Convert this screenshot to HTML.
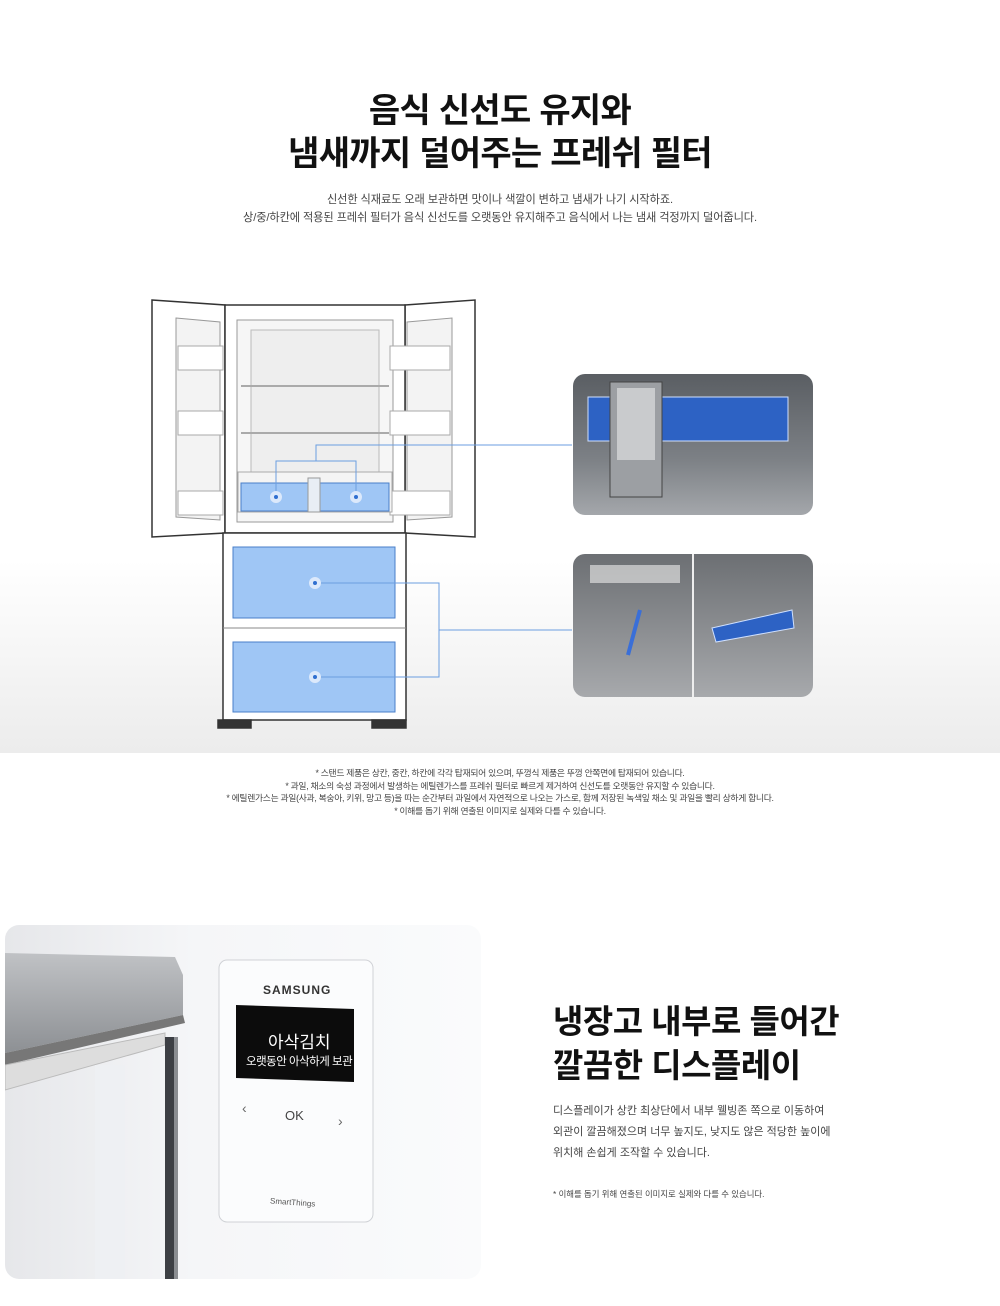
<!DOCTYPE html>
<html><head><meta charset="utf-8">
<style>
html,body{margin:0;padding:0;background:#fff;}
body{width:1000px;height:1306px;position:relative;overflow:hidden;font-family:"Liberation Sans","Noto Sans CJK KR",sans-serif;color:#111;}
.abs{position:absolute;}
.c{left:0;width:1000px;text-align:center;}
h1{margin:0;font-weight:700;font-size:34px;line-height:43px;letter-spacing:-0.7px;}
.sub{font-size:11.2px;color:#444;line-height:18px;letter-spacing:-0.1px;}
.note{font-size:8.8px;color:#444;line-height:12.5px;letter-spacing:-0.3px;}
</style></head><body>

<div class="abs" style="left:0;top:560px;width:1000px;height:193px;background:linear-gradient(#fff,#ececec);"></div>

<h1 class="abs c" style="top:90px;">음식 신선도 유지와<br>냄새까지 덜어주는 프레쉬 필터</h1>
<div class="abs c sub" style="top:191px;">신선한 식재료도 오래 보관하면 맛이나 색깔이 변하고 냄새가 나기 시작하죠.<br>상/중/하칸에 적용된 프레쉬 필터가 음식 신선도를 오랫동안 유지해주고 음식에서 나는 냄새 걱정까지 덜어줍니다.</div>

<svg class="abs" style="left:0;top:0" width="1000" height="760">
 <g stroke="#333" stroke-width="1.5" fill="#fff">
  <polygon points="152,300 225,305 225,533 152,537"/>
  <polygon points="176,318 220,322 220,520 176,517" fill="#f3f3f3" stroke="#999" stroke-width="1"/>
  <polygon points="405,305 475,300 475,537 405,533"/>
  <polygon points="407,322 452,318 452,517 407,520" fill="#f3f3f3" stroke="#999" stroke-width="1"/>
  <rect x="225" y="305" width="180" height="228"/>
  <rect x="237" y="320" width="156" height="202" fill="#f6f6f6" stroke="#999" stroke-width="1"/>
  <rect x="251" y="330" width="128" height="150" fill="#eee" stroke="#bbb" stroke-width="1"/>
  <rect x="223" y="533" width="183" height="187"/>
  <rect x="218" y="720" width="33" height="8" fill="#333"/>
  <rect x="372" y="720" width="34" height="8" fill="#333"/>
 </g>
 <g stroke="#aaa" stroke-width="1" fill="#fff">
  <line x1="241" y1="386" x2="389" y2="386" stroke-width="2"/>
  <line x1="241" y1="433" x2="389" y2="433" stroke-width="2"/>
  <rect x="178" y="346" width="45" height="24"/><rect x="178" y="411" width="45" height="24"/><rect x="178" y="491" width="45" height="24"/>
  <rect x="390" y="346" width="60" height="24"/><rect x="390" y="411" width="60" height="24"/><rect x="390" y="491" width="60" height="24"/>
  <rect x="238" y="472" width="154" height="40" fill="#f4f4f4"/>
  <line x1="223" y1="628" x2="406" y2="628" stroke="#888"/>
 </g>
 <rect x="241" y="483" width="148" height="28" fill="#9fc6f5" stroke="#4a7fc9" stroke-width="1"/>
 <rect x="308" y="478" width="12" height="34" fill="#e8eef5" stroke="#999" stroke-width="1"/>
 <rect x="233" y="547" width="162" height="71" fill="#9fc6f5" stroke="#4a7fc9" stroke-width="1"/>
 <rect x="233" y="642" width="162" height="70" fill="#9fc6f5" stroke="#4a7fc9" stroke-width="1"/>
 <g stroke="#6b9ee0" stroke-width="1" fill="none">
  <polyline points="276,497 276,461 356,461 356,497"/>
  <polyline points="316,461 316,445 572,445"/>
  <polyline points="315,583 439,583 439,677 315,677"/>
  <line x1="439" y1="630" x2="572" y2="630"/>
 </g>
 <g fill="#dce9fb"><circle cx="276" cy="497" r="6"/><circle cx="356" cy="497" r="6"/><circle cx="315" cy="583" r="6"/><circle cx="315" cy="677" r="6"/></g>
 <g fill="#2f6fd0"><circle cx="276" cy="497" r="2"/><circle cx="356" cy="497" r="2"/><circle cx="315" cy="583" r="2"/><circle cx="315" cy="677" r="2"/></g>

 <defs>
  <linearGradient id="g1" x1="0" y1="0" x2="0" y2="1"><stop offset="0" stop-color="#5a5e63"/><stop offset=".6" stop-color="#7c8085"/><stop offset="1" stop-color="#a4a7ab"/></linearGradient>
  <linearGradient id="g2" x1="0" y1="0" x2="0" y2="1"><stop offset="0" stop-color="#6c6f73"/><stop offset="1" stop-color="#a7a9ac"/></linearGradient>
 </defs>
 <rect x="573" y="374" width="240" height="141" rx="12" fill="url(#g1)"/>
 <rect x="588" y="397" width="200" height="44" fill="#2d62c4" stroke="#cfe0ff"/>
 <rect x="610" y="382" width="52" height="115" fill="#9c9fa3" stroke="#444"/>
 <rect x="617" y="388" width="38" height="72" fill="#c9cbcd"/>
 <rect x="573" y="554" width="240" height="143" rx="12" fill="url(#g2)"/>
 <rect x="692" y="554" width="2" height="143" fill="#eee"/>
 <polygon points="712,628 792,610 794,628 716,642" fill="#2d62c4" stroke="#cfe0ff"/>
 <line x1="628" y1="655" x2="640" y2="610" stroke="#3a6fd8" stroke-width="4"/>
 <rect x="590" y="565" width="90" height="18" fill="#ddd" opacity=".7"/>
</svg>

<div class="abs c note" style="top:767px;">* 스탠드 제품은 상칸, 중칸, 하칸에 각각 탑재되어 있으며, 뚜껑식 제품은 뚜껑 안쪽면에 탑재되어 있습니다.<br>* 과일, 채소의 숙성 과정에서 발생하는 에틸렌가스를 프레쉬 필터로 빠르게 제거하여 신선도를 오랫동안 유지할 수 있습니다.<br>* 에틸렌가스는 과일(사과, 복숭아, 키위, 망고 등)을 따는 순간부터 과일에서 자연적으로 나오는 가스로, 함께 저장된 녹색잎 채소 및 과일을 빨리 상하게 합니다.<br>* 이해를 돕기 위해 연출된 이미지로 실제와 다를 수 있습니다.</div>

<svg class="abs" style="left:5px;top:925px" width="476" height="354">
 <defs>
  <linearGradient id="bg" x1="0" y1="0" x2="1" y2="0"><stop offset="0" stop-color="#e6e7ea"/><stop offset=".4" stop-color="#f5f6f8"/><stop offset="1" stop-color="#fafbfc"/></linearGradient>
  <linearGradient id="sh" x1="0" y1="0" x2="0" y2="1"><stop offset="0" stop-color="#c0c2c5"/><stop offset="1" stop-color="#8d9094"/></linearGradient>
 </defs>
 <rect width="476" height="354" rx="14" fill="url(#bg)"/>
 <polygon points="0,28 170,32 178,50 178,90 0,128" fill="url(#sh)"/>
 <polygon points="0,128 178,90 180,98 0,140" fill="#777"/>
 <polygon points="0,140 160,108 160,120 0,165" fill="#ddd" stroke="#bbb"/>
 <rect x="90" y="140" width="30" height="214" fill="#eef0f3"/>
 <rect x="160" y="112" width="9" height="242" fill="#3c3f44"/>
 <rect x="169" y="112" width="4" height="242" fill="#8a8d91"/>
 <rect x="214" y="35" width="154" height="262" rx="8" fill="#fbfcfd" stroke="#d0d2d6"/>
 <polygon points="231,80 349,84 349,157 231,153" fill="#0c0c0c"/>
</svg>
<div class="abs" style="left:263px;top:983px;font-size:12px;font-weight:700;letter-spacing:1px;color:#333;">SAMSUNG</div>
<div class="abs" style="left:268px;top:1028px;font-size:17px;color:#fff;">아삭김치</div>
<div class="abs" style="left:246px;top:1053px;font-size:11.5px;color:#fff;letter-spacing:-0.5px;">오랫동안 아삭하게 보관</div>
<div class="abs" style="left:242px;top:1100px;font-size:14px;color:#666;">‹</div>
<div class="abs" style="left:285px;top:1108px;font-size:13px;color:#444;">OK</div>
<div class="abs" style="left:338px;top:1113px;font-size:14px;color:#666;">›</div>
<div class="abs" style="left:270px;top:1198px;font-size:8px;color:#555;transform:rotate(4deg);">SmartThings</div>

<div class="abs" style="left:553px;top:1000px;font-size:33px;font-weight:700;line-height:44px;letter-spacing:-0.5px;">냉장고 내부로 들어간<br>깔끔한 디스플레이</div>
<div class="abs" style="left:553px;top:1101px;font-size:11px;color:#444;line-height:21px;">디스플레이가 상칸 최상단에서 내부 웰빙존 쪽으로 이동하여<br>외관이 깔끔해졌으며 너무 높지도, 낮지도 않은 적당한 높이에<br>위치해 손쉽게 조작할 수 있습니다.</div>
<div class="abs" style="left:553px;top:1188px;font-size:8.4px;color:#444;">* 이해를 돕기 위해 연출된 이미지로 실제와 다를 수 있습니다.</div>
</body></html>
